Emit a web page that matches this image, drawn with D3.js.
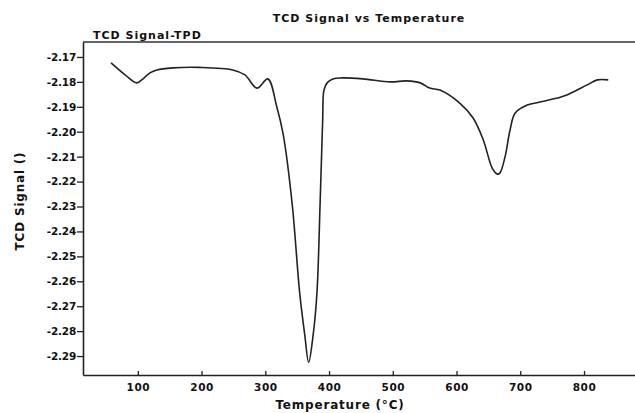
<!DOCTYPE html>
<html>
<head>
<meta charset="utf-8">
<script src="https://cdn.jsdelivr.net/npm/d3@7"></script>
<style>
  body { margin: 0; background: #fff; }
  svg { display: block; }
  text { font-family: "DejaVu Sans", sans-serif; font-weight: bold; fill: #111; }
</style>
</head>
<body>
<div id="chart"></div>
<script>
// data
const temperature = [58, 80, 98, 106, 119, 130, 155, 197, 249, 268, 287, 304, 318, 328, 342, 354, 362, 368,
  375, 381, 386, 390, 392, 397, 406, 420, 453, 496, 522, 543, 558, 574, 605, 626, 642, 656, 664, 668,
  676, 684, 692, 711, 731, 758, 773, 805, 821, 838];
const signal = [-2.1724, -2.1772, -2.1804, -2.1792, -2.1764, -2.1752, -2.1744, -2.1742, -2.1752, -2.1772,
  -2.1825, -2.1788, -2.1900, -2.2010, -2.2286, -2.2648, -2.2817, -2.2925,
  -2.2817, -2.2648, -2.2286, -2.1953, -2.1833, -2.1804, -2.1788, -2.1784, -2.1788, -2.1800, -2.1796,
  -2.1804, -2.1825, -2.1833, -2.1885, -2.1945, -2.2033, -2.2146, -2.2170, -2.2166,
  -2.2102, -2.1993, -2.1925, -2.1893, -2.1881, -2.1865, -2.1853, -2.1812, -2.1792, -2.1792];
const xTicks = [100, 200, 300, 400, 500, 600, 700, 800];
const yTicks = [-2.17, -2.18, -2.19, -2.20, -2.21, -2.22, -2.23, -2.24, -2.25, -2.26, -2.27, -2.28, -2.29];

const width = 635, height = 413;
const plotLeft = 83, plotRight = 635, plotTop = 42, plotBottom = 375;

const svg = d3.select('#chart').append('svg')
  .attr('width', width)
  .attr('height', height);

const x = d3.scaleLinear().domain([14, 880]).range([plotLeft, plotRight]);
const y = d3.scaleLinear().domain([-2.164, -2.2976]).range([plotTop, plotBottom]);

// frame: top line, left and bottom axes
svg.append('line')
  .attr('x1', plotLeft).attr('x2', plotRight).attr('y1', plotTop).attr('y2', plotTop)
  .attr('stroke', '#333').attr('stroke-width', 1.3);

// plain hyphen for the minus, as on the original plot
const yAxis = svg.append('g')
  .attr('transform', `translate(${plotLeft},0)`)
  .call(d3.axisLeft(y).tickValues(yTicks).tickFormat(d => d.toFixed(2)).tickSize(6).tickSizeOuter(0));

const xAxis = svg.append('g')
  .attr('transform', `translate(0,${plotBottom})`)
  .call(d3.axisBottom(x).tickValues(xTicks).tickSize(-4).tickSizeOuter(0).tickPadding(9));

[xAxis, yAxis].forEach(ax => {
  ax.select('.domain').attr('stroke', '#222').attr('stroke-width', 1.6);
  ax.selectAll('.tick line').attr('stroke', '#222').attr('stroke-width', 1.3);
  ax.selectAll('.tick text')
    .attr('font-size', 10.5)
    .attr('font-family', '"DejaVu Sans", sans-serif')
    .attr('font-weight', 'bold')
    .attr('fill', '#111');
});
yAxis.selectAll('.tick text').attr('x', -7).attr('letter-spacing', -0.2);
xAxis.selectAll('.tick text').attr('letter-spacing', 0.5);

// curve
const points = temperature.map((t, i) => [t, signal[i]]);
const line = d3.line()
  .x(d => x(d[0]))
  .y(d => y(d[1]))
  .curve(d3.curveCatmullRom.alpha(0.5));

svg.append('path')
  .datum(points)
  .attr('fill', 'none')
  .attr('stroke', '#222')
  .attr('stroke-width', 1.6)
  .attr('d', line);

// titles
svg.append('text')
  .attr('x', 369).attr('y', 22)
  .attr('text-anchor', 'middle')
  .attr('font-size', 11)
  .attr('letter-spacing', 1)
  .text('TCD Signal vs Temperature');

svg.append('text')
  .attr('x', 93).attr('y', 39)
  .attr('font-size', 11)
  .attr('letter-spacing', 1)
  .text('TCD Signal-TPD');

svg.append('text')
  .attr('transform', 'translate(24,201) rotate(-90)')
  .attr('text-anchor', 'middle')
  .attr('font-size', 12)
  .attr('letter-spacing', 0.8)
  .text('TCD Signal ()');

svg.append('text')
  .attr('x', 340).attr('y', 409)
  .attr('text-anchor', 'middle')
  .attr('font-size', 12)
  .attr('letter-spacing', 0.8)
  .text('Temperature (°C)');
</script>
</body>
</html>
